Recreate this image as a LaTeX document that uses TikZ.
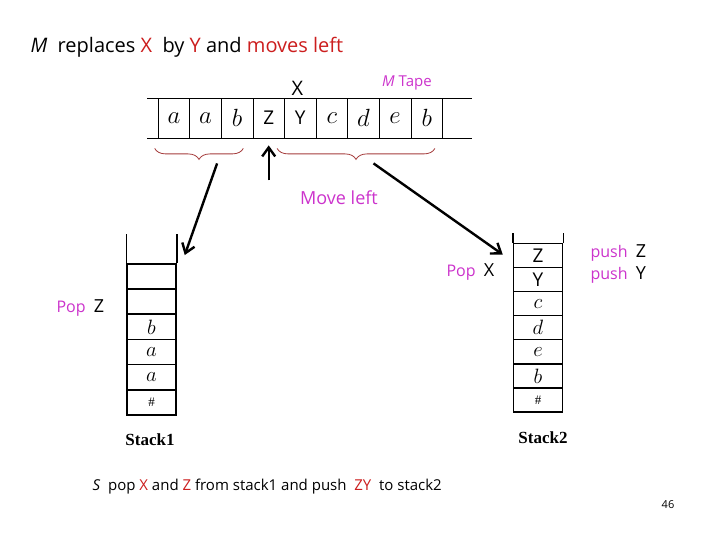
\documentclass[tikz,border=0pt]{standalone}
\usepackage{fontspec}
\setmainfont{Liberation Serif}
\newfontfamily\comicfont{Open Sans}
\usetikzlibrary{arrows.meta, positioning, decorations.pathreplacing, calc}
\definecolor{txtred}{RGB}{204, 30, 30}
\definecolor{txtmag}{RGB}{204, 51, 204}
\definecolor{bracecolor}{RGB}{165, 60, 60}

\begin{document}
\begin{tikzpicture}[x=1pt, y=-1pt,
  every node/.style={font=\comicfont\fontsize{16}{19}\selectfont},
  tapecell/.style={draw, line width=0.8pt, minimum width=31.6pt, minimum height=40pt, inner sep=0pt, font=\fontsize{24}{26}\selectfont},
  stkcell/.style={draw, line width=1.5pt, minimum width=49pt, minimum height=#1, inner sep=0pt, font=\fontsize{22}{24}\selectfont},
  stkcell/.default=25pt,
  bigarrow/.style={line width=2.4pt, -{Straight Barb[length=9pt, width=13pt, line width=2.4pt]}},
  bracestyle/.style={bracecolor, line width=0.8pt, decorate, decoration={brace, mirror, amplitude=11pt}}]
  \useasboundingbox[fill=white] (0,0) rectangle (720,540);

  % Title
  \node[anchor=west, font=\comicfont\fontsize{20}{23}\selectfont] (title) at (27,47) {\textit{M}\ \ replaces {\color{txtred}X}\ \ by {\color{txtred}Y} and {\color{txtred}moves left}};

  % M Tape
  \draw[line width=0.8pt] (147,98) -- (472,98);
  \draw[line width=0.8pt] (147,138) -- (472,138);
  \foreach \sym [count=\i] in {$a$, $a$, $b$, {\comicfont\fontsize{19}{21}\selectfont Z}, {\comicfont\fontsize{19}{21}\selectfont Y}, $c$, $d$, $e$, $b$}
    \node[tapecell] (t\i) at ({142.3+31.6*\i}, 118) {\sym};
  \node[above=2pt of t5, xshift=-3pt, inner sep=0pt, font=\comicfont\fontsize{20}{23}\selectfont] (headsym) {X};
  \node[txtmag, font=\comicfont\fontsize{15}{17}\selectfont] (tapename) at (407,83) {\textit{M} Tape};

  % Braces under the tape
  \draw[bracestyle] ($(t1.south west)+(-3,10)$) -- ($(t3.south east)+(-10,10)$);
  \draw[bracestyle] ($(t5.south west)+(-7,10)$) -- ($(t9.south east)+(-8,10)$);
  \coordinate (lbtip) at ($(t3.south)+(-20,25)$);
  \coordinate (rbtip) at ($(t7.south)+(10,25)$);

  % Head moves left
  \coordinate (headfoot) at ($(t4.south)+(0,42)$);
  \draw[bigarrow] (headfoot) -- ($(t4.south)+(0,7)$);
  \node[txtmag, font=\comicfont\fontsize{18}{21}\selectfont] (moveleft) at (339,198) {Move left};

  % Stack1
  \foreach \sym [count=\i] in {{\fontsize{13}{15}\selectfont\#}, $a$, $a$, $b$, {}, {}}
    \node[stkcell=25.2pt] (sa\i) at (151.5, {415-25.2*\i+12.6}) {\sym};
  \draw[line width=1.5pt] (sa6.north west) -- ++(0,-29);
  \draw[line width=1.5pt] (sa6.north east) -- ++(0,-29);
  \node[font=\bfseries\fontsize{17}{20}\selectfont] (stacka) at (150,440) {Stack1};
  \node[anchor=west] (popz) at (53,308) {{\color{txtmag}Pop}\ \ {\fontsize{18}{21}\selectfont Z}};

  % Stack2
  \foreach \sym [count=\i] in {{\fontsize{13}{15}\selectfont\#}, $b$, $e$, $d$, $c$, {\comicfont\fontsize{19}{21}\selectfont Y}, {\comicfont\fontsize{19}{21}\selectfont Z}}
    \node[stkcell=24.1pt] (sb\i) at (538, {412-24.1*\i+12.05}) {\sym};
  \draw[line width=1.5pt] (sb7.north west) -- ++(0,-10);
  \draw[line width=1.5pt] (sb7.north east) -- ++(0,-10);
  \node[font=\bfseries\fontsize{17}{20}\selectfont] (stackb) at (543,438) {Stack2};
  \node[anchor=west] (popx) at (443,272) {{\color{txtmag}Pop}\ \ {\fontsize{18}{21}\selectfont X}};
  \node[anchor=west] (pushz) at (587,253) {{\color{txtmag}push}\ \ {\fontsize{18}{21}\selectfont Z}};
  \node[anchor=west] (pushy) at (587,275) {{\color{txtmag}push}\ \ {\fontsize{18}{21}\selectfont Y}};

  % Arrows to the stacks
  \draw[bigarrow] (lbtip) -- ($(sa6.north east)+(8,-8)$);
  \draw[bigarrow] (rbtip) -- ($(sb7.north west)+(-10,12)$);

  % Bottom line
  \node[anchor=west, font=\comicfont\fontsize{15}{18}\selectfont] (summary) at (89,487) {\textit{S}\ \ pop {\color{txtred}X} and {\color{txtred}Z} from stack1 and push\ \ {\color{txtred}ZY}\ \ to stack2};
  \node[font=\comicfont\fontsize{11}{13}\selectfont] (pageno) at (668,505) {46};
\end{tikzpicture}
\end{document}
